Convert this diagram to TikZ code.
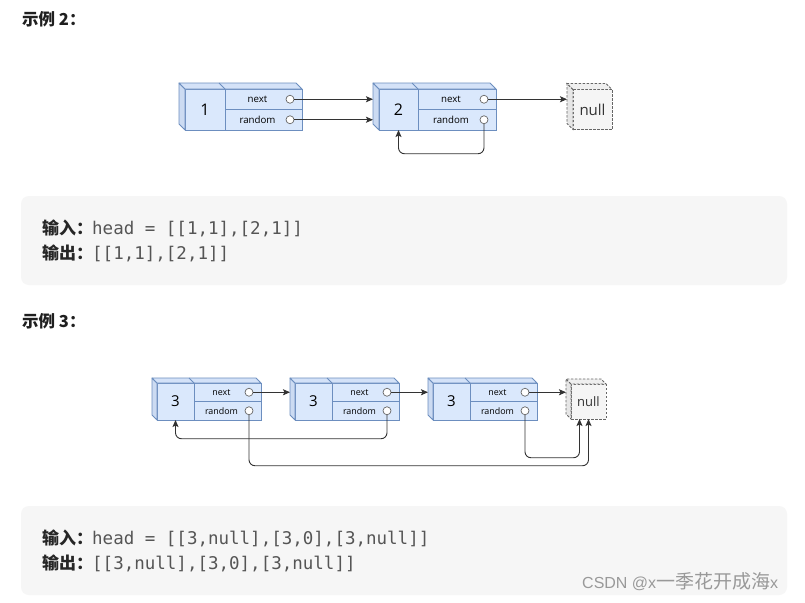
\documentclass[tikz,border=0pt]{standalone}
\usepackage{fontspec}
\usetikzlibrary{positioning,calc,arrows.meta}
\newfontfamily\cjk{Noto Sans CJK SC}
\newfontfamily\codefont{DejaVu Sans Mono}
\newfontfamily\drawfont{Open Sans}
\newfontfamily\markfont{Liberation Sans}
\definecolor{nodefill}{HTML}{DAE8FC}
\definecolor{nodeline}{HTML}{6C8EBF}
\definecolor{nodeside}{HTML}{CCDBF2}
\definecolor{nodetop}{HTML}{D4E2F8}
\definecolor{nullfill}{HTML}{F5F5F5}
\definecolor{nullline}{HTML}{666666}
\definecolor{nullside}{HTML}{E6E6E6}
\definecolor{linkcol}{HTML}{333333}
\definecolor{panelfill}{HTML}{F6F6F6}
\definecolor{codecol}{HTML}{555555}
\tikzset{
    cell/.style={
        draw=nodeline,
        fill=nodefill,
        line width=0.8pt,
        rectangle,
        inner sep=0pt,
        outer sep=0pt
    },
    cellside/.style={
        draw=nodeline,
        fill=nodeside,
        line width=0.8pt,
        line join=round
    },
    celltop/.style={
        draw=nodeline,
        fill=nodetop,
        line width=0.8pt,
        line join=round
    },
    cellline/.style={
        draw=nodeline,
        line width=0.8pt
    },
    nullcell/.style={
        draw=nullline,
        fill=nullfill,
        dash pattern=on 2.5pt off 1.5pt,
        line width=0.8pt,
        rectangle,
        inner sep=0pt,
        outer sep=0pt,
        text=linkcol
    },
    nullface/.style={
        draw=nullline,
        fill=nullside,
        dash pattern=on 2.5pt off 1.5pt,
        line width=0.8pt
    },
    port/.style={
        draw=nullline,
        fill=white,
        circle,
        line width=0.7pt,
        minimum size=8pt,
        inner sep=0pt
    },
    numtext/.style={
        text=black,
        inner sep=0pt
    },
    fieldtext/.style={
        text=black,
        inner sep=0pt
    },
    link/.style={
        draw=linkcol,
        line width=0.9pt,
        rounded corners=6pt,
        -{Stealth[length=7pt,width=6pt,inset=1.5pt]}
    },
    panel/.style={
        fill=panelfill,
        rounded corners=8pt
    },
    heading/.style={
        anchor=base west,
        inner sep=0pt,
        text=black!88,
        font=\cjk\bfseries\fontsize{16.5}{16.5}\selectfont
    },
    iolabel/.style={
        anchor=base west,
        inner sep=0pt,
        text=black!85,
        font=\cjk\bfseries\fontsize{17}{17}\selectfont
    },
    code/.style={
        anchor=base west,
        inner sep=0pt,
        text=codecol,
        font=\codefont\fontsize{17.5}{17.5}\selectfont
    },
    watermark/.style={
        anchor=base west,
        inner sep=0pt,
        text=black!40,
        font=\markfont\fontsize{16}{16}\selectfont
    }
}
% front node name, value, number cell width, depth
\newcommand\cellparts[4]{%
    \filldraw[cellside] (#1.north west) -- ++(-#4,-#4) -- ($(#1.south west)+(-#4,-#4)$) -- (#1.south west) -- cycle;
    \filldraw[celltop] (#1.north west) -- ++(-#4,-#4) -- ($(#1.north east)+(-#4,-#4)$) -- (#1.north east) -- cycle;
    \coordinate (#1-c) at ($(#1.north west)+(#3,0)$);
    \draw[cellline] (#1-c) -- (#1-c |- #1.south);
    \draw[cellline] (#1-c) -- ++(-#4,-#4);
    \draw[cellline] (#1-c |- #1.west) -- (#1.east);
    \node[numtext] (#1-v) at ($(#1.north west)!.5!(#1-c |- #1.south)$) {#2};
    \node[port] (#1-n) at ($(#1.north east)!.25!(#1.south east)+(-12,0)$) {};
    \node[port] (#1-r) at ($(#1.north east)!.75!(#1.south east)+(-12,0)$) {};
    \node[fieldtext] (#1-nt) at ($(#1-c |- #1-n)!.5!(#1-n)$) {next};
    \node[fieldtext] (#1-rt) at ($(#1-c |- #1-r)!.5!(#1-r)$) {random};
    \coordinate (#1-l) at ($(#1.west)+(-#4,0)$);
    \coordinate (#1-b) at (#1-v |- #1.south);
}
\newcommand\nullparts[2]{%
    \filldraw[nullface] (#1.north west) -- ++(-#2,-#2) -- ($(#1.south west)+(-#2,-#2)$) -- (#1.south west) -- cycle;
    \filldraw[nullface, fill=nullfill!60!nullside] (#1.north west) -- ++(-#2,-#2) -- ($(#1.north east)+(-#2,-#2)$) -- (#1.north east) -- cycle;
    \coordinate (#1-l) at ($(#1.west)+(-#2,0)$);
}

\begin{document}
\begin{tikzpicture}[x=1pt, y=-1pt]
    \fill[white] (0,0) rectangle (805,602);
    \useasboundingbox (0,0) rectangle (805,602);

    % example 2
    \node[heading] (title2) at (22,26) {示例 2：};
    \begin{scope}[cell/.append style={minimum width=117pt, minimum height=41pt},
                  nullcell/.append style={minimum width=39pt, minimum height=40pt, font=\drawfont\fontsize{15}{15}\selectfont},
                  numtext/.append style={font=\drawfont\fontsize{16}{16}\selectfont},
                  fieldtext/.append style={font=\drawfont\fontsize{9.7}{9.7}\selectfont}]
        % blocks
        \node[cell, anchor=north west] (n1) at (185,89) {};
        \node[cell, right=77pt of n1] (n2) {};
        \node[nullcell, right=77pt of n2] (nil) {null};
        \cellparts{n1}{1}{40}{6}
        \cellparts{n2}{2}{39}{6}
        \nullparts{nil}{6}
        % lines
        \draw[link] (n1-n) -- (n1-n -| n2-l);
        \draw[link] (n1-r) -- (n1-r -| n2-l);
        \draw[link] (n2-n) -- (n2-n -| nil-l);
        \draw[link] (n2-r) -- ++(0,34) -| (n2-b);
    \end{scope}

    \fill[panel] (21,196) rectangle (787,285);
    \node[iolabel] (in2) at (42,234) {输入：};
    \node[code] (incode2) at (92,234) {head = [[1,1],[2,1]]};
    \node[iolabel] (out2) at (42,259) {输出：};
    \node[code] (outcode2) at (92,259) {[[1,1],[2,1]]};

    % example 3
    \node[heading] (title3) at (22,327) {示例 3：};
    \begin{scope}[cell/.append style={minimum width=104pt, minimum height=37pt},
                  nullcell/.append style={minimum width=35pt, minimum height=35pt, font=\drawfont\fontsize{13}{13}\selectfont},
                  numtext/.append style={font=\drawfont\fontsize{15}{15}\selectfont},
                  fieldtext/.append style={font=\drawfont\fontsize{8.9}{8.9}\selectfont}]
        % blocks
        \node[cell, anchor=north west] (a) at (157,383) {};
        \node[cell, right=34pt of a] (b) {};
        \node[cell, right=34pt of b] (c) {};
        \node[nullcell, right=34pt of c] (nil3) {null};
        \cellparts{a}{3}{37}{5}
        \cellparts{b}{3}{37}{5}
        \cellparts{c}{3}{37}{5}
        \nullparts{nil3}{5}
        % lines
        \draw[link] (a-n) -- (a-n -| b-l);
        \draw[link] (b-n) -- (b-n -| c-l);
        \draw[link] (c-n) -- (c-n -| nil3-l);
        \draw[link] (a-r) -- ++(0,55) -| (nil3.south);
        \draw[link] (c-r) -- ++(0,47) -| ([xshift=-9pt]nil3.south);
        \draw[link] (b-r) -- ++(0,28) -| (a-b);
    \end{scope}

    \fill[panel] (21,506) rectangle (787,595);
    \node[iolabel] (in3) at (42,544) {输入：};
    \node[code] (incode3) at (92,544) {head = [[3,null],[3,0],[3,null]]};
    \node[iolabel] (out3) at (42,569) {输出：};
    \node[code] (outcode3) at (92,569) {[[3,null],[3,0],[3,null]]};

    \node[watermark] (csdn) at (582,588) {CSDN @x{\cjk\fontsize{19}{19}\selectfont 一季花开成海}x};
\end{tikzpicture}
\end{document}
